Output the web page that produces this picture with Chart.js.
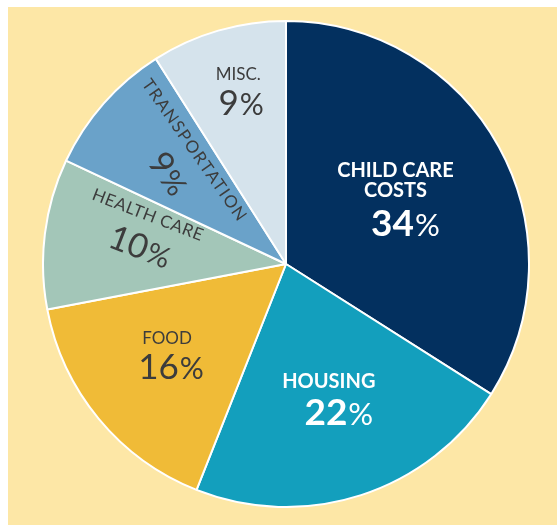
<!DOCTYPE html>
<html>
<head>
<meta charset="utf-8">
<title>Family budget share</title>
<script src="https://cdn.jsdelivr.net/npm/chart.js@4.4.1/dist/chart.umd.min.js"></script>
<style>
    body { margin: 0; background: #ffffff; }
    #panel {
        position: absolute;
        left: 8px;
        top: 7px;
        width: 549px;
        height: 518px;
        background: #fde7a6;
    }
    #pie {
        position: absolute;
        left: 34px;
        top: 13px;
    }
</style>
</head>
<body>
<div id="panel">
    <canvas id="pie" width="488" height="488"></canvas>
</div>
<script>
// data
const categories = ['Child Care Costs', 'Housing', 'Food', 'Health Care', 'Transportation', 'Misc.'];
const shares = [34, 22, 16, 10, 9, 9];
const labelLines = [['CHILD CARE', 'COSTS'], ['HOUSING'], ['FOOD'], ['HEALTH CARE'], ['TRANSPORTATION'], ['MISC.']];

// styles
const sliceColors = ['#03305f', '#139fbd', '#f0bb37', '#a3c6b8', '#6aa2c9', '#d5e3ec'];
const darkText = '#3c3c3c';

// label placement, one entry per slice (radius fraction, angle shift in deg, rotation in deg)
const labelLayout = [
    { frac: 0.53, shift: -3, rot: 0, color: '#ffffff', weight: 700, nameSize: 20, nameY: [-26, -6], pctSize: 37, pctY: 40, pctDx: 10, pctWeight: 700 },
    { frac: 0.57, shift: 0, rot: 0, color: '#ffffff', weight: 700, nameSize: 20, nameY: [-14], pctSize: 37, pctY: 29, pctDx: 10, pctWeight: 700 },
    { frac: 0.61, shift: 3, rot: 0, color: darkText, weight: 400, nameSize: 17, nameY: [-14], pctSize: 35, pctY: 27, pctDx: 4, pctWeight: 400 },
    { frac: 0.60, shift: 6, rot: 21, color: darkText, weight: 400, nameSize: 17, nameY: [-16], nameDx: -2, pctSize: 34, pctY: 28, pctDx: 2, pctWeight: 400, spacing: 0.5 },
    { frac: 0.60, shift: 3, rot: 55, color: darkText, weight: 400, nameSize: 17, nameY: [-17], nameDx: -2, pctSize: 34, pctY: 29, pctDx: 2, pctWeight: 400, spacing: 1.5 },
    { frac: 0.75, shift: 1, rot: 0, color: darkText, weight: 400, nameSize: 17, nameY: [-14], pctSize: 35, pctY: 27, pctDx: 3, pctWeight: 400 }
];

const FONT = 'Lato, "Open Sans", sans-serif';

const sliceLabels = {
    id: 'sliceLabels',
    afterDatasetsDraw(chart) {
        const ctx = chart.ctx;
        const meta = chart.getDatasetMeta(0);
        meta.data.forEach((arc, i) => {
            const lay = labelLayout[i];
            const p = arc.getProps(['x', 'y', 'startAngle', 'endAngle', 'outerRadius'], true);
            const a = (p.startAngle + p.endAngle) / 2 + lay.shift * Math.PI / 180;
            const cx = p.x + Math.cos(a) * p.outerRadius * lay.frac;
            const cy = p.y + Math.sin(a) * p.outerRadius * lay.frac;

            ctx.save();
            ctx.translate(cx, cy);
            ctx.rotate(lay.rot * Math.PI / 180);
            ctx.fillStyle = lay.color;

            // category name
            ctx.textAlign = 'center';
            ctx.textBaseline = 'middle';
            ctx.font = `${lay.weight} ${lay.nameSize}px ${FONT}`;
            ctx.letterSpacing = (lay.spacing || 0) + 'px';
            labelLines[i].forEach((line, j) => {
                ctx.fillText(line, lay.nameDx || 0, lay.nameY[j]);
            });
            ctx.letterSpacing = '0px';

            // percentage, with a lighter, smaller % sign
            const num = String(shares[i]);
            ctx.textAlign = 'left';
            ctx.textBaseline = 'alphabetic';
            ctx.font = `${lay.pctWeight} ${lay.pctSize}px ${FONT}`;
            const w1 = ctx.measureText(num).width;
            const pctFont = `400 ${Math.round(lay.pctSize * 0.85)}px ${FONT}`;
            ctx.font = pctFont;
            const w2 = ctx.measureText('%').width;
            const left = -(w1 + w2 + 1) / 2 + lay.pctDx;
            ctx.font = `${lay.pctWeight} ${lay.pctSize}px ${FONT}`;
            ctx.fillText(num, left, lay.pctY);
            ctx.font = pctFont;
            ctx.fillText('%', left + w1 + 1, lay.pctY);
            ctx.restore();
        });
    }
};

new Chart(document.getElementById('pie'), {
    type: 'pie',
    data: {
        labels: categories,
        datasets: [{
            data: shares,
            backgroundColor: sliceColors,
            borderColor: '#ffffff',
            borderWidth: 2
        }]
    },
    options: {
        responsive: false,
        animation: false,
        layout: { padding: 0 },
        plugins: {
            legend: { display: false },
            tooltip: { enabled: false }
        }
    },
    plugins: [sliceLabels]
});
</script>
</body>
</html>
